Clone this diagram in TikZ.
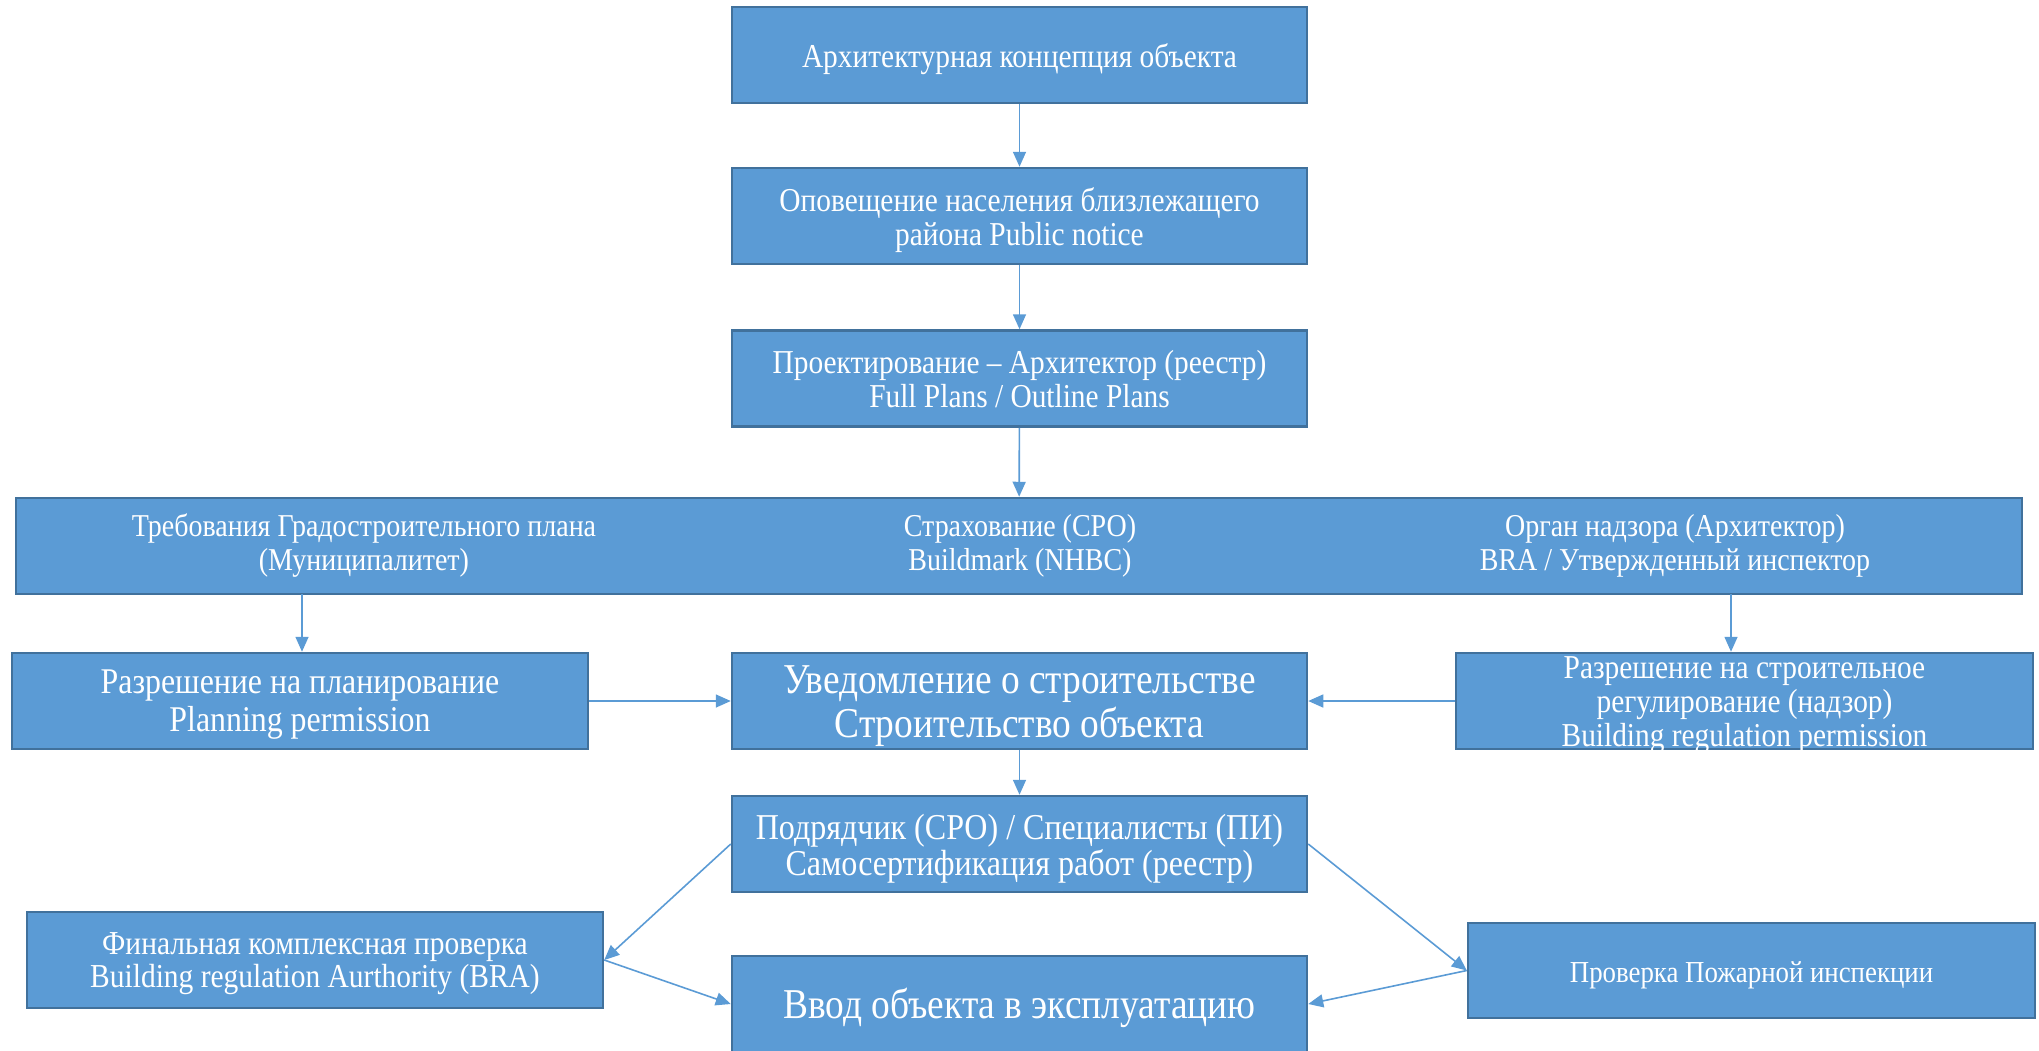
\documentclass[tikz,border=0pt]{standalone}
\usepackage{fontspec}
\setmainfont[FakeStretch=0.88]{Liberation Serif}
\usetikzlibrary{arrows.meta}
\definecolor{boxfill}{HTML}{5B9BD5}
\definecolor{boxline}{HTML}{41719C}
\begin{document}
\begin{tikzpicture}[x=1pt,y=-1pt,
  box/.style={draw=boxline,fill=boxfill,line width=2.5pt,inner sep=0pt,minimum height=96pt},
  conn/.style={draw=boxfill,line width=1.6pt,-{Triangle[length=15pt,width=13pt]}},
  lbl/.style={text=white,align=center,inner sep=0pt},
  fa/.style={font=\fontsize{33.4}{34}\selectfont},
  fw/.style={font=\fontsize{31.8}{34}\selectfont},
  fl/.style={font=\fontsize{36.2}{38}\selectfont},
  fb/.style={font=\fontsize{42.5}{44}\selectfont},
  fp/.style={font=\fontsize{36.4}{36.4}\selectfont},
  ff/.style={font=\fontsize{33.5}{33}\selectfont},
  fr/.style={font=\fontsize{30.5}{34}\selectfont}]
\useasboundingbox (0,0) rectangle (2039,1050);
% boxes
\node[box,minimum width=575pt] (concept) at (1019.5,55) {};
\node[box,minimum width=575pt] (notice) at (1019.5,216) {};
\node[box,minimum width=575pt] (design) at (1019.5,378.5) {};
\node[box,minimum width=2006pt] (wide) at (1019,546) {};
\node[box,minimum width=576pt] (plan) at (300,701) {};
\node[box,minimum width=575pt] (notif) at (1019.5,701) {};
\node[box,minimum width=577pt] (breg) at (1744.5,701) {};
\node[box,minimum width=575pt] (contr) at (1019.5,844) {};
\node[box,minimum width=576pt] (final) at (315,960) {};
\node[box,minimum width=575pt] (vvod) at (1019.5,1004) {};
\node[box,minimum width=567pt,minimum height=95pt] (fire) at (1751.5,970.5) {};
% texts
\node[lbl,fa] (conceptT) at ([yshift=-4pt]concept.center) {Архитектурная концепция объекта};
\node[lbl,fa] (noticeT) at ([yshift=-4pt]notice.center) {Оповещение населения близлежащего\\района Public notice};
\node[lbl,fa] (designT) at ([yshift=-1pt]design.center) {Проектирование – Архитектор (реестр)\\Full Plans / Outline Plans};
\node[lbl,fw] (req) at (364,546) {Требования Градостроительного плана\\(Муниципалитет)};
\node[lbl,fw] (ins) at (1020,546) {Страхование (СРО)\\Buildmark (NHBC)};
\node[lbl,fw] (sup) at (1675,546) {Орган надзора (Архитектор)\\BRA / Утвержденный инспектор};
\node[lbl,fl] (planT) at ([yshift=-4pt]plan.center) {Разрешение на планирование\\Planning permission};
\node[lbl,fb] (notifT) at ([yshift=-5pt]notif.center) {Уведомление о строительстве\\Строительство объекта};
\node[lbl,fa] (bregT) at ([yshift=-4pt]breg.center) {Разрешение на строительное\\регулирование (надзор)\\Building regulation permission};
\node[lbl,fp] (contrT) at ([yshift=-5pt]contr.center) {Подрядчик (СРО) / Специалисты (ПИ)\\Самосертификация работ (реестр)};
\node[lbl,ff] (finalT) at ([yshift=-4pt]final.center) {Финальная комплексная проверка\\Building regulation Aurthority (BRA)};
\node[lbl,fb] (vvodT) at (1019.5,1008) {Ввод объекта в эксплуатацию};
\node[lbl,fr] (fireT) at ([yshift=-5pt]fire.center) {Проверка Пожарной инспекции};
% connectors
\coordinate (wl) at (302,594);
\coordinate (wr) at (1731,594);
\draw[conn] (concept) -- (notice);
\draw[conn] (notice) -- (design);
\draw[conn] (design) -- (wide);
\draw[conn] (wl) -- (wl |- plan.north);
\draw[conn] (wr) -- (wr |- breg.north);
\draw[conn] (plan) -- (notif);
\draw[conn] (breg) -- (notif);
\draw[conn] (notif) -- (contr);
\draw[conn] (contr.west) -- (final.east);
\draw[conn] (final.east) -- (vvod.west);
\draw[conn] (contr.east) -- (fire.west);
\draw[conn] (fire.west) -- (vvod.east);
\end{tikzpicture}
\end{document}
